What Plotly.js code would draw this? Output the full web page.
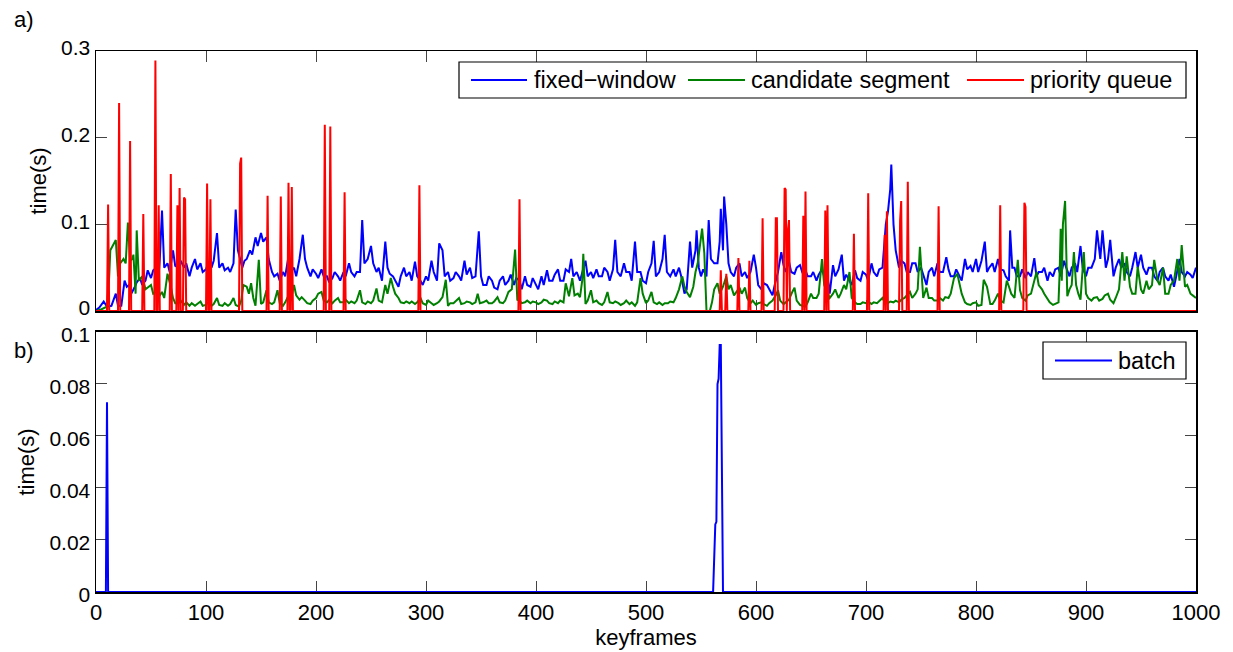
<!DOCTYPE html>
<html>
<head>
<meta charset="utf-8">
<script src="https://cdn.plot.ly/plotly-3.0.1.min.js"></script>
<style>html,body{margin:0;padding:0;background:#fff;}#chart{width:1233px;height:652px;}</style>
</head>
<body>
<div id="chart"></div>
<script>
// ---- fixed-window (blue), panel a ----
const blueKf = [0,3,7,10,14,18,20,23,26,28,30,32,35,37,40,42,45,47,50,52,55,57,58,60,62,65,67,70,72,75,77,80,82,85,87,90,92,95,97,100,102,105,107,110,112,115,117,120,122,125,127,129,131,133,135,137,140,142,145,147,150,152,155,157,160,162,165,167,170,172,175,177,180,182,185,188,190,192,195,197,200,
202,205,207,210,212,215,217,220,222,225,227,230,232,235,237,240,242,244,247,250,252,255,257,260,263,265,267,270,272,275,277,280,282,285,287,290,292,295,297,300,302,305,307,310,312,315,317,320,322,325,327,330,332,335,337,340,342,345,348,350,352,355,357,360,362,365,367,370,372,375,377,380,382,385,387,390,392,395,397,400,
402,405,407,410,412,415,417,420,422,425,427,430,432,434,437,440,442,445,447,450,452,455,457,460,462,465,467,470,472,474,477,480,482,485,487,490,492,495,497,500,502,505,507,509,512,515,517,519,522,525,527,530,532,535,537,540,542,545,546,548,550,552,555,557,559,562,565,567,568,570,571,573,575,577,580,582,585,587,590,592,595,598,600,
602,605,607,610,612,615,617,620,623,625,627,630,632,635,637,640,642,645,647,650,652,655,657,660,662,665,667,670,672,675,678,680,682,685,687,690,692,695,697,700,702,705,707,710,712,715,718,720,722,723,725,727,730,732,735,737,740,742,745,747,750,752,755,757,760,762,765,767,770,773,775,777,780,782,785,787,790,792,795,797,800,
802,805,808,810,812,815,817,820,822,825,827,830,831,833,835,837,840,842,845,847,850,853,855,857,860,862,865,867,870,872,875,877,880,882,885,887,890,892,895,897,900,902,905,908,910,913,915,918,920,922,925,927,930,932,935,937,940,942,945,947,950,952,955,957,960,962,965,967,970,972,975,977,980,982,985,987,990,992,995,997,1000];
const blueT = [0.001,0.004,0.011,0.005,0.006,0.02,0.006,0.006,0.035,0.028,0.03,0.02,0.027,0.033,0.038,0.03,0.035,0.047,0.038,0.047,0.05,0.042,0.06,0.116,0.05,0.055,0.045,0.07,0.052,0.05,0.058,0.05,0.055,0.04,0.05,0.06,0.048,0.055,0.045,0.048,0.055,0.05,0.058,0.09,0.05,0.055,0.047,0.05,0.045,0.055,0.117,0.07,0.06,0.05,0.058,0.06,0.07,0.065,0.085,0.075,0.09,0.08,0.085,0.06,0.045,0.04,0.043,0.035,0.045,0.04,0.063,0.045,0.05,0.04,0.06,0.088,0.06,0.05,0.04,0.048,0.043,
0.038,0.048,0.04,0.04,0.033,0.038,0.045,0.04,0.035,0.045,0.04,0.055,0.045,0.04,0.045,0.045,0.105,0.055,0.06,0.075,0.055,0.045,0.05,0.035,0.08,0.05,0.043,0.04,0.035,0.028,0.04,0.05,0.04,0.045,0.035,0.057,0.04,0.035,0.03,0.04,0.035,0.058,0.045,0.035,0.078,0.07,0.04,0.045,0.035,0.038,0.045,0.04,0.035,0.058,0.042,0.05,0.038,0.04,0.092,0.04,0.03,0.03,0.04,0.035,0.027,0.025,0.035,0.04,0.03,0.035,0.042,0.03,0.038,0.035,0.025,0.04,0.03,0.028,0.038,0.03,
0.025,0.04,0.03,0.047,0.035,0.035,0.042,0.048,0.035,0.035,0.048,0.045,0.06,0.04,0.045,0.035,0.045,0.058,0.04,0.045,0.038,0.048,0.04,0.04,0.05,0.045,0.035,0.048,0.082,0.045,0.04,0.055,0.045,0.045,0.035,0.08,0.045,0.045,0.035,0.032,0.045,0.055,0.081,0.04,0.045,0.06,0.088,0.045,0.04,0.048,0.04,0.05,0.04,0.02,0.025,0.08,0.05,0.07,0.093,0.05,0.04,0.048,0.04,0.105,0.06,0.055,0.055,0.08,0.118,0.07,0.132,0.1,0.055,0.045,0.04,0.05,0.055,0.04,0.045,0.038,0.045,0.065,0.05,
0.03,0.025,0.032,0.03,0.025,0.018,0.03,0.045,0.068,0.053,0.045,0.057,0.045,0.043,0.05,0.053,0.045,0.047,0.04,0.04,0.045,0.035,0.042,0.048,0.04,0.04,0.02,0.053,0.04,0.048,0.065,0.035,0.042,0.035,0.03,0.047,0.038,0.035,0.045,0.042,0.035,0.055,0.045,0.04,0.048,0.05,0.1,0.115,0.14,0.169,0.1,0.07,0.05,0.058,0.055,0.045,0.045,0.055,0.055,0.045,0.05,0.042,0.03,0.045,0.05,0.04,0.055,0.045,0.045,0.062,0.048,0.04,0.04,0.048,0.04,0.035,0.06,0.048,0.052,0.045,0.06,
0.045,0.058,0.08,0.045,0.05,0.055,0.045,0.06,0.048,0.047,0.04,0.035,0.093,0.05,0.05,0.04,0.04,0.048,0.038,0.045,0.04,0.061,0.04,0.045,0.045,0.05,0.035,0.045,0.04,0.048,0.05,0.04,0.058,0.05,0.04,0.05,0.055,0.045,0.075,0.05,0.04,0.05,0.05,0.06,0.093,0.06,0.093,0.05,0.06,0.082,0.04,0.05,0.06,0.05,0.055,0.045,0.04,0.05,0.068,0.05,0.065,0.05,0.042,0.05,0.05,0.04,0.035,0.045,0.05,0.04,0.035,0.042,0.028,0.04,0.06,0.045,0.04,0.045,0.042,0.038,0.05];

// ---- candidate segment (green), panel a ----
const greenKf = [0,5,10,12,13,16,18,20,22,25,27,29,31,33,34,36,37,39,42,45,48,50,52,55,58,60,62,65,68,70,72,75,77,80,82,85,87,90,92,95,97,100,102,105,107,110,112,115,117,120,122,125,127,130,132,134,137,139,141,143,145,148,150,152,155,157,160,162,165,167,170,172,175,177,180,182,185,187,190,192,195,197,200,
202,205,207,210,212,215,217,220,222,225,227,230,232,235,237,240,242,245,247,250,252,255,257,260,263,265,268,270,272,275,277,280,282,285,287,290,292,295,297,300,302,305,307,310,312,315,318,320,322,325,327,330,332,335,337,340,342,345,347,349,352,355,357,360,362,365,367,370,372,375,378,381,383,385,387,390,392,395,397,400,
402,405,407,410,412,415,417,420,422,425,427,430,433,435,438,440,442,443,445,447,450,452,455,457,460,462,465,467,470,472,475,477,480,482,485,487,490,492,495,497,500,502,505,507,510,512,515,517,520,522,525,527,530,533,535,537,540,543,545,547,551,553,555,558,560,562,565,567,570,573,575,577,580,582,585,587,590,592,595,597,600,
602,605,607,610,612,615,618,620,622,625,627,630,633,635,637,640,642,645,647,650,652,655,657,660,662,665,667,670,672,675,677,680,682,685,687,690,692,695,697,700,702,705,707,710,712,715,717,720,722,725,727,730,732,735,737,740,742,745,747,749,752,755,757,760,762,765,767,770,772,775,777,780,783,785,787,790,792,795,797,800,
802,805,807,810,813,815,817,820,822,825,828,830,832,835,838,840,842,845,847,850,853,855,857,860,862,865,867,870,872,875,876,877,878,879,881,883,885,887,889,891,893,895,898,900,902,905,907,910,912,915,917,920,922,925,927,930,933,935,937,940,942,945,947,950,952,955,957,960,962,965,967,970,972,975,977,980,983,985,987,990,992,995,997,1000];
const greenT = [0,0.002,0.005,0.04,0.07,0.078,0.082,0.04,0.055,0.06,0.055,0.102,0.058,0.06,0.065,0.02,0.093,0.035,0.04,0.025,0.028,0.03,0.02,0.022,0.018,0.022,0.015,0.043,0.028,0.015,0.009,0.009,0.012,0.007,0.01,0.006,0.009,0.006,0.008,0.011,0.006,0.007,0.01,0.006,0.008,0.015,0.007,0.006,0.009,0.006,0.008,0.015,0.007,0.005,0.012,0.03,0.028,0.02,0.032,0.015,0.006,0.059,0.008,0.01,0.024,0.01,0.008,0.01,0.024,0.009,0.006,0.01,0.018,0.012,0.03,0.018,0.013,0.016,0.012,0.009,0.008,0.012,0.015,
0.02,0.022,0.012,0.01,0.013,0.009,0.012,0.015,0.01,0.01,0.013,0.009,0.011,0.009,0.012,0.024,0.01,0.008,0.011,0.009,0.012,0.026,0.012,0.01,0.03,0.02,0.038,0.028,0.02,0.015,0.01,0.009,0.011,0.009,0.011,0.008,0.01,0.015,0.009,0.007,0.012,0.009,0.007,0.009,0.011,0.016,0.036,0.006,0.009,0.009,0.011,0.015,0.008,0.009,0.011,0.01,0.008,0.01,0.02,0.009,0.01,0.012,0.009,0.009,0.011,0.016,0.01,0.009,0.012,0.022,0.025,0.071,0.013,0.012,0.009,0.01,0.012,0.009,0.011,0.01,
0.008,0.01,0.013,0.012,0.009,0.008,0.011,0.009,0.012,0.01,0.032,0.017,0.038,0.018,0.02,0.016,0.035,0.066,0.008,0.012,0.024,0.01,0.012,0.009,0.007,0.01,0.022,0.01,0.009,0.011,0.009,0.007,0.009,0.012,0.008,0.01,0.006,0.01,0.038,0.02,0.009,0.012,0.022,0.01,0.008,0.01,0.007,0.009,0.009,0.011,0.01,0.015,0.025,0.04,0.028,0.022,0.016,0.028,0.045,0.055,0.095,0.067,0,0,0.01,0.025,0.032,0.02,0.028,0.04,0.025,0.03,0.018,0.022,0.027,0.02,0.027,0.015,0.009,0.012,0.007,
0.009,0.01,0.008,0.006,0.009,0.012,0.018,0.024,0.012,0.008,0.01,0.013,0.022,0.027,0.012,0.007,0.006,0.005,0.01,0.02,0.015,0.015,0.02,0.06,0.03,0.02,0.015,0.02,0.025,0.015,0.02,0.03,0.025,0.045,0.015,0.01,0.008,0.008,0.01,0.009,0.011,0.008,0.01,0.009,0.011,0.015,0.01,0.009,0.011,0.01,0.012,0.01,0.013,0.015,0.018,0.022,0.015,0.02,0.025,0.074,0.015,0.027,0.015,0.015,0.012,0.012,0.015,0.012,0.016,0.015,0.02,0.038,0.043,0.033,0.02,0.01,0.008,0.007,0.009,0.01,
0.006,0.007,0.036,0.028,0.008,0.008,0.012,0.02,0.012,0.01,0.035,0.028,0.02,0.015,0.059,0.024,0.015,0.012,0.018,0.02,0.035,0.045,0.03,0.025,0.02,0.013,0.01,0.007,0.008,0.01,0.043,0.095,0.035,0.1,0.127,0.017,0.025,0.03,0.068,0.03,0.02,0.013,0.068,0.02,0.015,0.012,0.015,0.016,0.012,0.014,0.018,0.02,0.013,0.009,0.015,0.025,0.068,0.035,0.063,0.028,0.02,0.02,0.051,0.025,0.02,0.035,0.025,0.03,0.059,0.035,0.03,0.05,0.02,0.02,0.03,0.035,0.06,0.035,0.076,0.028,0.03,0.02,0.018,0.015];

// ---- priority queue (red), panel a ----
const redKf = [0,10,11,12,20,21,22,30,31,32,42,43,44,53,54,55,56,57,58,67,68,69,73,74,75,76,77,79,80,81,82,100,101,102,103,104,105,130,131,132,133,155,156,157,167,168,169,174,175,176,177,178,179,207,208,209,212,213,214,225,226,227,293,294,295,384,385,386,
567,568,569,572,573,574,583,584,585,593,594,595,605,606,607,617,618,619,620,625,626,627,628,629,630,631,642,643,644,645,646,662,663,664,665,666,688,689,690,701,702,703,716,717,718,719,720,730,731,732,733,737,738,739,765,766,767,821,822,823,843,844,845,846,1000];
const redT = [0,0,0.123,0,0,0.24,0,0,0.196,0,0,0.112,0,0,0.289,0,0,0.122,0,0,0.158,0,0,0.122,0,0.142,0,0,0.131,0.129,0,0,0.147,0,0,0.129,0,0,0.17,0.177,0,0,0.133,0,0,0.132,0,0,0.148,0,0,0.143,0,0,0.215,0,0,0.213,0,0,0.137,0,0,0.145,0,0,0.129,0,
0,0.047,0,0,0.043,0,0,0.061,0,0,0.058,0,0,0.107,0,0,0.107,0.107,0,0,0.142,0.14,0,0.093,0.105,0,0,0.11,0,0.138,0,0,0.116,0,0.122,0,0,0.089,0,0,0.136,0,0,0.088,0,0.115,0,0,0.104,0.127,0,0,0.149,0,0,0.121,0,0,0.122,0,0,0.125,0.12,0,0];

// ---- batch (blue), panel b ----
const batchKf = [0,9,10,11,561,563,564,565,566,567,568,570,1000];
const batchT = [0,0,0.073,0,0,0.026,0.027,0.08,0.082,0.095,0.095,0,0];

const seriesNames = ['fixed\u2212window','candidate segment','priority queue','batch'];
const seriesColors = ['#0000ff','#008000','#ff0000','#0000ff'];
const xTicks = [0,100,200,300,400,500,600,700,800,900,1000];
const yTicksA = [0,0.1,0.2,0.3];
const yTicksB = [0,0.02,0.04,0.06,0.08,0.1];

const FONT = 'Liberation Sans, Arial, Helvetica, sans-serif';
const traces = [
  {x: blueKf, y: blueT, name: seriesNames[0], type:'scatter', mode:'lines', line:{color:seriesColors[0], width:2}, xaxis:'x', yaxis:'y'},
  {x: greenKf, y: greenT, name: seriesNames[1], type:'scatter', mode:'lines', line:{color:seriesColors[1], width:2}, xaxis:'x', yaxis:'y'},
  {x: redKf, y: redT, name: seriesNames[2], type:'scatter', mode:'lines', line:{color:seriesColors[2], width:2}, xaxis:'x', yaxis:'y'},
  {x: batchKf, y: batchT, name: seriesNames[3], type:'scatter', mode:'lines', line:{color:seriesColors[3], width:2}, xaxis:'x2', yaxis:'y2'}
];

const axCommon = {
  ticks:'inside', ticklen:11, tickwidth:1, tickcolor:'#444',
  showline:true, linecolor:'#000', linewidth:1.5, mirror:'ticks',
  showgrid:false, zeroline:false, layer:'below traces',
  tickfont:{family:FONT, size:21, color:'#000'}
};

// plot area in pixels: x 96..1196, y 51..592 (paper coordinates below)
const PX = px => (px - 96) / 1100;
const PY = py => (592 - py) / 541;
const legFont = {family:FONT, size:23.5, color:'#000'};

// legend boxes drawn as shapes + annotations (long MATLAB-style line samples)
const legA = {box:[459,62,1186,98], lines:[[471,527],[688,745],[967,1024]], text:[534,751,1030], yc:80};
const legB = {box:[1043,342,1186,379], lines:[[1055,1112]], text:[1118], yc:360.5};

const shapes = [];
const annotations = [];
function addLegend(L, idx){
  shapes.push({type:'rect', xref:'paper', yref:'paper', x0:PX(L.box[0]), x1:PX(L.box[2]), y0:PY(L.box[3]), y1:PY(L.box[1]),
    line:{color:'#000', width:1.2}, fillcolor:'#fff', layer:'above'});
  L.lines.forEach((seg, i) => {
    const s = idx[i];
    shapes.push({type:'line', xref:'paper', yref:'paper', x0:PX(seg[0]), x1:PX(seg[1]), y0:PY(L.yc), y1:PY(L.yc),
      line:{color:seriesColors[s], width:2}, layer:'above'});
    annotations.push({text:seriesNames[s], xref:'paper', yref:'paper', x:PX(L.text[i]), y:PY(L.yc), xanchor:'left', yanchor:'middle',
      showarrow:false, font:legFont, xshift:-2});
  });
}
addLegend(legA, [0,1,2]);
addLegend(legB, [3]);
annotations.push({text:'a)', xref:'paper', yref:'paper', x:PX(12), y:PY(20), xanchor:'left', yanchor:'middle', showarrow:false, font:{family:FONT, size:22}});
annotations.push({text:'b)', xref:'paper', yref:'paper', x:PX(12), y:PY(350), xanchor:'left', yanchor:'middle', showarrow:false, font:{family:FONT, size:22}});

const layout = {
  width:1233, height:652,
  margin:{l:96, r:37, t:51, b:60},
  paper_bgcolor:'#fff', plot_bgcolor:'#fff',
  font:{family:FONT, size:22, color:'#000'},
  showlegend:false,
  xaxis: Object.assign({}, axCommon, {domain:[0,1], anchor:'y', range:[0,1000], tickvals:xTicks, showticklabels:false}),
  yaxis: Object.assign({}, axCommon, {domain:[0.5194,1], anchor:'x', range:[0,0.3], tickvals:yTicksA, ticktext:yTicksA.map(String), ticklabelshift:-3,
          title:{text:'time(s)', font:{family:FONT, size:22}, standoff:8}}),
  xaxis2: Object.assign({}, axCommon, {domain:[0,1], anchor:'y2', range:[0,1000], tickvals:xTicks, tickfont:{family:FONT, size:22, color:'#000'},
          title:{text:'keyframes', font:{family:FONT, size:22}, standoff:4}}),
  yaxis2: Object.assign({}, axCommon, {domain:[0,0.4806], anchor:'x2', range:[0,0.1], tickvals:yTicksB, ticktext:yTicksB.map(String), ticklabelshift:3,
          title:{text:'time(s)', font:{family:FONT, size:22}, standoff:8}}),
  shapes: shapes,
  annotations: annotations
};

Plotly.newPlot('chart', traces, layout, {displayModeBar:false, staticPlot:true});
</script>
</body>
</html>
